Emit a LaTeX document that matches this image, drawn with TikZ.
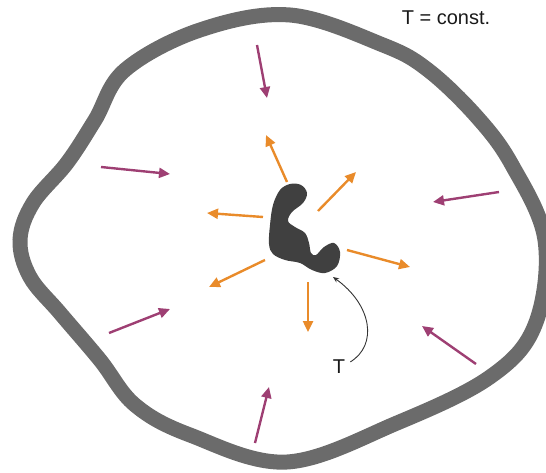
\documentclass[tikz,border=0pt]{standalone}
\usepackage{fontspec}
\setmainfont{Liberation Sans}
\usepackage{tikz}
\usetikzlibrary{arrows.meta,positioning}

\definecolor{wallgray}{HTML}{6B6B6B}
\definecolor{bodygray}{HTML}{404040}
\definecolor{heatorange}{HTML}{E98B2A}
\definecolor{heatpurple}{HTML}{9E3F73}

\begin{document}
\begin{tikzpicture}[
  x=1pt, y=-1pt,
  font=\fontsize{20}{24}\selectfont,
  wall/.style={draw=wallgray, line width=15pt},
  body/.style={fill=bodygray, draw=none},
  outarr/.style={-{Triangle[length=11pt, width=10pt]}, line width=2.4pt, heatorange},
  inarr/.style={-{Triangle[length=11pt, width=10pt]}, line width=2.4pt, heatpurple},
  ptr/.style={-{Stealth[length=6pt, width=5pt]}, line width=0.9pt, black!80},
  lbl/.style={inner sep=1pt, text=black!90}]
\useasboundingbox (0,0) rectangle (546,473);
% ---- outer wall ----
\draw[wall] plot[smooth cycle, tension=0.6] coordinates {
  (290,15) (383,45) (428,70) (477,117) (512,165) (545,240) (535,325)
  (490,377) (397,423) (287,462) (190,435) (135,405) (100,360) (60,313)
  (30,277) (20,240) (33,203) (67,163) (95,120) (125,70) (200,30)};
% ---- hot body ----
\fill[body] plot[smooth cycle, tension=0.6] coordinates {
  (290,184) (301,185) (307,193) (303,203) (292,212) (288,221) (295,227)
  (305,233) (309,243) (311,253) (316,255) (324,247) (334,243) (340,252)
  (337,266) (325,273) (312,270) (300,263) (285,260) (273,254) (269,244)
  (270,225) (273,205) (280,190)};
% ---- heat leaving the body ----
\foreach \n/\xa/\ya/\xb/\yb in {
    up/287/182/266/135, ur/318/211/356/172, lf/263/217/207/213,
    rt/347/250/410/267, ll/265/260/209/287, dn/308/282/308/332} {
  \coordinate (out-\n-a) at (\xa,\ya);
  \coordinate (out-\n-b) at (\xb,\yb);
  \draw[outarr] (out-\n-a) -- (out-\n-b);
}
% ---- heat coming from the wall ----
\foreach \n/\xa/\ya/\xb/\yb in {
    tp/257/45/267/98, ul/101/167/170/174, rt/499/192/433/202,
    dl/109/333/170/309, dr/476/364/422/326, bt/255/443/269/387} {
  \coordinate (in-\n-a) at (\xa,\ya);
  \coordinate (in-\n-b) at (\xb,\yb);
  \draw[inarr] (in-\n-a) -- (in-\n-b);
}
% ---- labels ----
\node[lbl] (wallT) at (446,18) {T = const.};
\node[lbl] (bodyT) at (339,367) {T};
\coordinate (bodyedge) at (333,277);
\draw[ptr] ([xshift=4pt, yshift=-3pt]bodyT.north east)
  .. controls (378,345) and (372,305) .. (bodyedge);
\end{tikzpicture}
\end{document}
